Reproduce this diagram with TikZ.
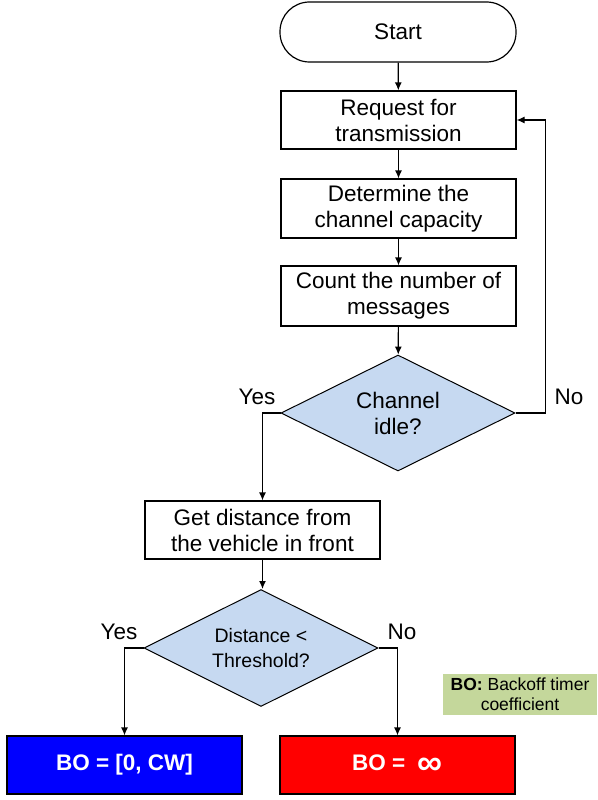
\documentclass[tikz,border=0pt]{standalone}
\usepackage{fontspec}
\setmainfont{Liberation Sans}
\usetikzlibrary{shapes.geometric,arrows.meta}
\definecolor{dfill}{HTML}{C6D9F1}
\definecolor{legfill}{HTML}{C4D79B}
\definecolor{boblue}{HTML}{0000FF}
\definecolor{bored}{HTML}{FF0000}
\begin{document}
\begin{tikzpicture}[x=1pt,y=-1pt,
  every node/.style={font=\fontsize{22.5}{26}\selectfont, align=center, inner sep=0pt},
  proc/.style={draw=black, line width=1.2pt, minimum width=235pt, minimum height=58pt},
  dec/.style={diamond, draw=black, line width=1pt, fill=dfill, shape aspect=2, minimum width=234pt, minimum height=116pt},
  conn/.style={line width=1.2pt, -{Latex[length=8pt,width=7pt]}},
  outbox/.style={draw=black, line width=1.2pt, minimum width=235pt, minimum height=58pt, text=white, font=\fontsize{22.5}{26}\selectfont\bfseries},
]
\useasboundingbox (0,0) rectangle (597,800);
\node[draw=black, line width=1.2pt, minimum width=236pt, minimum height=60pt, rounded corners=29.5pt] (start) at (398,32) {Start};
\node[proc] (req) at (398.5,120) {Request for\\transmission};
\node[proc, minimum height=59pt] (det) at (398.5,208.5) {Determine the\\channel capacity};
\node[proc, minimum height=60pt] (cnt) at (398.5,296) {Count the number of\\messages};
\node[dec] (d1) at (398,413) {Channel\\idle?};
\node[proc] (get) at (262.5,530) {Get distance from\\the vehicle in front};
\node[dec, minimum height=117pt, font=\fontsize{19.5}{25}\selectfont] (d2) at (261,648) {Distance <\\Threshold?};
\node[outbox, fill=boblue] (blue) at (124.5,765) {BO = [0, CW]};
\node[outbox, fill=bored] (red) at (397.5,765) {BO =\ \ \raisebox{-4pt}{\fontsize{35}{26}\selectfont ∞}};
\node[fill=legfill, minimum width=154pt, minimum height=41pt, font=\fontsize{17.5}{20}\selectfont] (leg) at (520,694.5) {\textbf{BO:} Backoff timer\\coefficient};
\node (yes1) at (257,397) {Yes};
\node (no1) at (569,397) {No};
\node (yes2) at (119,632) {Yes};
\node (no2) at (402,632) {No};
\draw[conn] (start) -- (req);
\draw[conn] (req) -- (det);
\draw[conn] (det) -- (cnt);
\draw[conn] (cnt) -- (d1);
\draw[conn] (d1.east) -- ++(30,0) |- (req.east);
\draw[conn] (d1.west) -| (get.north);
\draw[conn] (get) -- (get.south |- d2.north);
\draw[conn] (d2.west) -| (blue.north);
\draw[conn] (d2.east) -| (red.north);
\end{tikzpicture}
\end{document}
